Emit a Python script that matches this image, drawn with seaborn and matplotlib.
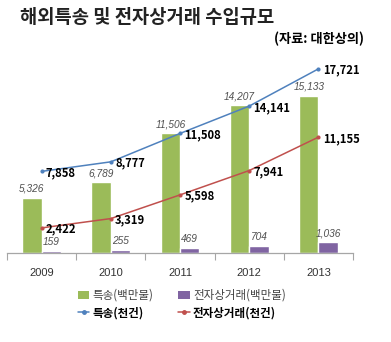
import matplotlib
matplotlib.use("Agg")
import matplotlib.pyplot as plt
import seaborn as sns
import pandas as pd
from matplotlib.lines import Line2D
from matplotlib.patches import Patch

years = ['2009', '2010', '2011', '2012', '2013']
express_usd = [5326, 6789, 11506, 14207, 15133]      # 특송(백만불)
ecommerce_usd = [159, 255, 469, 704, 1036]            # 전자상거래(백만불)
express_cnt = [7858, 8777, 11508, 14141, 17721]       # 특송(천건)
ecommerce_cnt = [2422, 3319, 5598, 7941, 11155]       # 전자상거래(천건)

bar_names = ['특송(백만불)', '전자상거래(백만불)']
line_names = ['특송(천건)', '전자상거래(천건)']

sns.set_theme(style="white")
plt.rcParams['font.family'] = ['Noto Sans CJK KR', 'DejaVu Sans']

GREEN = '#9BBB59'
PURPLE = '#8064A2'
BLUE = '#4F81BD'
RED = '#C0504D'

fig = plt.figure(figsize=(3.91, 3.42), dpi=100)
ax = fig.add_axes([0.018, 0.260, 0.885, 0.608])

bars = pd.DataFrame({
    'year': years * 2,
    'value': express_usd + ecommerce_usd,
    'series': [bar_names[0]] * 5 + [bar_names[1]] * 5,
})
sns.barplot(data=bars, x='year', y='value', hue='series',
            palette=[GREEN, PURPLE], width=0.56, saturation=1,
            legend=False, ax=ax)

xpos = list(range(len(years)))
lines = pd.DataFrame({'x': xpos * 2,
                      'value': express_cnt + ecommerce_cnt,
                      'series': [line_names[0]] * 5 + [line_names[1]] * 5})
sns.lineplot(data=lines, x='x', y='value', hue='series',
             palette=[BLUE, RED], marker='o', markersize=3,
             markeredgewidth=0, linewidth=1.1, legend=False, ax=ax)

# bar value labels (italic gray)
for cont in ax.containers:
    for rect in cont:
        h = rect.get_height()
        ax.annotate(f'{int(h):,}', (rect.get_x() + rect.get_width() / 2, h),
                    xytext=(0, 3), textcoords='offset points',
                    ha='center', va='bottom', fontsize=7.3,
                    family='Liberation Sans', style='italic', color='#505050')

# line value labels (bold black)
for vals in (express_cnt, ecommerce_cnt):
    for i, v in enumerate(vals):
        ax.annotate(f'{v:,}', (i, v), xytext=(3, -1), textcoords='offset points',
                    ha='left', va='center', fontsize=8.1, fontweight='bold',
                    color='black', annotation_clip=False)

ax.set_xlim(-0.5, 4.5)
ax.set_ylim(0, 20000)
ax.set_yticks([])
ax.set_xlabel('')
ax.set_ylabel('')
for s in ['top', 'right', 'left']:
    ax.spines[s].set_visible(False)
ax.spines['bottom'].set_color('#A6A6A6')
ax.spines['bottom'].set_linewidth(0.9)
ax.set_xticks(xpos)
ax.set_xticklabels(years)
ax.set_xticks([-0.5, 0.5, 1.5, 2.5, 3.5, 4.5], minor=True)
ax.tick_params(axis='x', which='major', length=0, labelsize=8, colors='#333333', pad=11)
ax.tick_params(axis='x', which='minor', length=5, width=0.8, color='#A6A6A6',
               direction='out', bottom=True)
for lbl in ax.get_xticklabels():
    lbl.set_family('Liberation Sans')

# title
fig.text(0.05, 0.948, '해외특송 및 전자상거래 수입규모', fontsize=13.5,
         fontweight='bold', color='#222222', ha='left', va='center')
fig.text(0.93, 0.886, '(자료: 대한상의)', fontsize=9.5,
         fontweight='bold', color='black', ha='right', va='center')

# legend
handles = [Patch(facecolor=GREEN, edgecolor='none'),
           Line2D([], [], color=BLUE, marker='o', markersize=2.5, lw=1.1),
           Patch(facecolor=PURPLE, edgecolor='none'),
           Line2D([], [], color=RED, marker='o', markersize=2.5, lw=1.1)]
labels = [bar_names[0], line_names[0], bar_names[1], line_names[1]]
leg = fig.legend(handles, labels, ncol=2, loc='center', bbox_to_anchor=(0.465, 0.111),
                 frameon=False, fontsize=8.3, handlelength=1.0, handleheight=0.7,
                 handletextpad=0.3, columnspacing=2.1, labelspacing=0.35)
for t, lab in zip(leg.get_texts(), labels):
    if lab in line_names:
        t.set_fontweight('bold')
        t.set_color('black')
    else:
        t.set_color('#444444')

fig.savefig('out.png', dpi=100)
